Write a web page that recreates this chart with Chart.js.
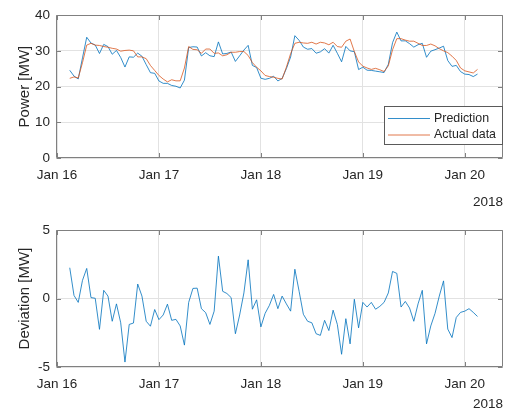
<!DOCTYPE html>
<html>
<head>
<meta charset="utf-8">
<script src="https://cdn.jsdelivr.net/npm/chart.js@4.4.1/dist/chart.umd.min.js"></script>
<style>
  html, body { margin: 0; padding: 0; background: #fff; }
  #wrap { position: relative; width: 513px; height: 412px; }
  canvas { position: absolute; left: 0; }
  #power { top: 0; }
  #dev { top: 215px; }
</style>
</head>
<body>
<div id="wrap">
  <canvas id="power" width="513" height="215"></canvas>
  <canvas id="dev" width="513" height="197"></canvas>
</div>
<script>
// Hourly samples, first one at Jan 16 03:00
const dayLabels = ['Jan 16', 'Jan 17', 'Jan 18', 'Jan 19', 'Jan 20'];
const yearLabel = '2018';
const firstHour = 3;

const actual = [
  22.3, 22.7, 22.4, 26.7, 31.6, 32.1, 31.6, 31.5, 31.2, 31.0,
  30.7, 30.5, 29.9, 30.1, 30.2, 30.0, 28.3, 28.3, 27.8, 25.9,
  24.5, 23.1, 22.1, 21.3, 21.9, 21.6, 21.6, 25.2, 31.2, 30.4,
  30.3, 29.3, 30.5, 30.5, 29.3, 29.4, 28.6, 28.9, 29.6, 29.6,
  29.8, 29.8, 28.7, 26.7, 25.4, 24.4, 23.1, 22.8, 22.6, 22.3,
  22.1, 25.4, 29.2, 32.1, 32.4, 32.2, 32.1, 32.4, 31.9, 32.4,
  32.2, 31.7, 32.4, 31.2, 31.0, 32.7, 33.3, 29.8, 26.9, 25.7,
  25.2, 24.8, 25.1, 24.7, 24.2, 25.8, 30.3, 33.4, 33.4, 33.0,
  32.7, 32.7, 32.1, 31.5, 31.5, 31.9, 31.4, 30.6, 30.0, 29.5,
  28.5, 27.3, 25.2, 24.4, 24.1, 23.8, 24.8
];

const prediction = [
  24.55, 22.93, 22.12, 28.03, 33.80, 32.17, 31.62, 29.25, 31.80, 31.18,
  29.04, 30.11, 28.13, 25.46, 28.31, 28.21, 29.36, 28.48, 26.14, 23.88,
  23.70, 21.56, 20.90, 20.89, 20.31, 20.08, 19.60, 21.80, 30.92, 31.14,
  31.06, 28.56, 29.47, 28.61, 28.38, 32.50, 29.13, 29.27, 29.67, 27.03,
  28.60, 30.21, 31.53, 25.92, 25.31, 22.33, 22.02, 22.30, 22.90, 21.56,
  22.28, 25.01, 28.28, 34.24, 32.93, 31.05, 30.44, 30.63, 29.33, 29.71,
  30.61, 29.36, 31.55, 29.31, 26.93, 31.23, 29.99, 29.75, 24.76, 25.42,
  24.58, 24.52, 24.32, 24.13, 23.92, 26.21, 32.28, 35.24, 32.78, 32.79,
  32.01, 31.04, 31.71, 32.10, 28.19, 29.90, 30.32, 30.78, 31.29, 27.27,
  25.65, 25.92, 24.19, 23.48, 23.36, 22.79, 23.49
];

const deviation = [
  2.25, 0.23, -0.28, 1.33, 2.20, 0.07, 0.02, -2.25, 0.60, 0.18,
  -1.66, -0.39, -1.77, -4.64, -1.89, -1.79, 1.06, 0.18, -1.66, -2.02,
  -0.80, -1.54, -1.20, -0.41, -1.59, -1.52, -2.00, -3.40, -0.28, 0.74,
  0.76, -0.74, -1.03, -1.89, -0.92, 3.10, 0.53, 0.37, 0.07, -2.57,
  -1.20, 0.41, 2.83, -0.78, -0.09, -2.07, -1.08, -0.50, 0.30, -0.74,
  0.18, -0.39, -0.92, 2.14, 0.53, -1.15, -1.66, -1.77, -2.57, -2.69,
  -1.59, -2.34, -0.85, -1.89, -4.07, -1.47, -3.31, -0.05, -2.14, -0.28,
  -0.62, -0.28, -0.78, -0.57, -0.28, 0.41, 1.98, 1.84, -0.62, -0.21,
  -0.69, -1.66, -0.39, 0.60, -3.31, -2.00, -1.08, 0.18, 1.29, -2.23,
  -2.85, -1.38, -1.01, -0.92, -0.74, -1.01, -1.31
];

const BLUE = 'rgba(0, 114, 189, 0.8)';
const ORANGE = 'rgba(217, 83, 25, 0.78)';
const TEXT = '#262626';
const GRID = '#e2e2e2';
const AXIS = '#808080';
const FONT = "'Liberation Sans', Arial, Helvetica, sans-serif";

Chart.defaults.font.family = FONT;
Chart.defaults.color = TEXT;

const toPoints = arr => arr.map((v, i) => ({ x: firstHour + i, y: v }));

// Box around the plot area with small inward tick marks on all four sides
const framePlugin = {
  id: 'frame',
  afterDraw(chart) {
    const { ctx, chartArea: a, scales } = chart;
    const L = Math.round(a.left) - 0.5, R = Math.round(a.right) - 0.5;
    const T = Math.round(a.top) + 0.5, B = Math.round(a.bottom) - 0.5;
    const tl = 4.5;
    ctx.save();
    ctx.strokeStyle = AXIS;
    ctx.lineWidth = 1;
    ctx.beginPath();
    scales.x.ticks.forEach(t => {
      const px = Math.round(scales.x.getPixelForValue(t.value)) + 0.5;
      ctx.moveTo(px, B); ctx.lineTo(px, B - tl);
      ctx.moveTo(px, T); ctx.lineTo(px, T + tl);
    });
    scales.y.ticks.forEach(t => {
      const py = Math.round(scales.y.getPixelForValue(t.value)) + 0.5;
      ctx.moveTo(L, py); ctx.lineTo(L + tl, py);
      ctx.moveTo(R, py); ctx.lineTo(R - tl, py);
    });
    ctx.rect(L, T, R - L, B - T);
    ctx.stroke();
    ctx.restore();
  }
};

// Legend box drawn inside the plot area (lower right)
const legendInside = {
  id: 'legendInside',
  afterDraw(chart, args, o) {
    if (!o || !o.show) return;
    const { ctx } = chart;
    ctx.save();
    ctx.fillStyle = '#fff';
    ctx.fillRect(o.x, o.y, o.w, o.h);
    ctx.strokeStyle = '#5a5a5a';
    ctx.lineWidth = 1;
    ctx.strokeRect(o.x + 0.5, o.y + 0.5, o.w, o.h);
    ctx.font = o.fontSize + 'px ' + FONT;
    ctx.textBaseline = 'middle';
    ctx.textAlign = 'left';
    chart.data.datasets.forEach((ds, i) => {
      const y = o.y + o.firstRow + i * o.rowGap;
      ctx.strokeStyle = ds.borderColor;
      ctx.lineWidth = ds.borderWidth;
      ctx.beginPath();
      ctx.moveTo(o.x + 4, y);
      ctx.lineTo(o.x + 46, y);
      ctx.stroke();
      ctx.fillStyle = TEXT;
      ctx.fillText(ds.label, o.x + 50, y);
    });
    ctx.restore();
  }
};

function xAxis(height, titlePad) {
  return {
    type: 'linear',
    min: 0,
    max: 105,
    afterFit: s => { s.height = height; },
    ticks: {
      stepSize: 24,
      includeBounds: false,
      autoSkip: false,
      maxRotation: 0,
      minRotation: 0,
      padding: 9,
      color: TEXT,
      font: { size: 13.5 },
      callback: v => dayLabels[Math.round(v / 24)] ?? ''
    },
    grid: { color: GRID, drawTicks: false },
    border: { display: false },
    title: {
      display: true,
      text: yearLabel,
      align: 'end',
      color: TEXT,
      font: { size: 13.5 },
      padding: { top: 0, bottom: titlePad }
    }
  };
}

function yAxis(min, max, step, label) {
  return {
    min, max,
    afterFit: s => { s.width = 57; },
    ticks: { stepSize: step, padding: 7, color: TEXT, font: { size: 13.5 } },
    grid: { color: GRID, drawTicks: false },
    border: { display: false },
    title: {
      display: true,
      text: label,
      color: TEXT,
      font: { size: 15 },
      padding: { top: 16, bottom: 0 }
    }
  };
}

const common = {
  responsive: false,
  animation: false,
  devicePixelRatio: 1,
  elements: { point: { radius: 0 }, line: { tension: 0 } },
  plugins: { legend: { display: false }, tooltip: { enabled: false } }
};

new Chart(document.getElementById('power'), {
  type: 'line',
  data: {
    datasets: [
      { label: 'Prediction', data: toPoints(prediction), borderColor: BLUE, borderWidth: 1, order: 1 },
      { label: 'Actual data', data: toPoints(actual), borderColor: ORANGE, borderWidth: 1, order: 0 }
    ]
  },
  options: {
    ...common,
    layout: { padding: { left: 0, top: 12, right: 10, bottom: 0 } },
    scales: { x: xAxis(57, 4.5), y: yAxis(0, 40, 10, 'Power [MW]') },
    plugins: {
      ...common.plugins,
      legendInside: { show: true, x: 384, y: 106, w: 118, h: 38, firstRow: 12.5, rowGap: 16.5, fontSize: 12.4 }
    }
  },
  plugins: [framePlugin, legendInside]
});

new Chart(document.getElementById('dev'), {
  type: 'line',
  data: {
    datasets: [
      { label: 'Deviation', data: toPoints(deviation), borderColor: BLUE, borderWidth: 1 }
    ]
  },
  options: {
    ...common,
    layout: { padding: { left: 0, top: 8, right: 10, bottom: 0 } },
    scales: { x: xAxis(45, 0), y: yAxis(-5, 5, 5, 'Deviation [MW]') }
  },
  plugins: [framePlugin]
});
</script>
</body>
</html>
